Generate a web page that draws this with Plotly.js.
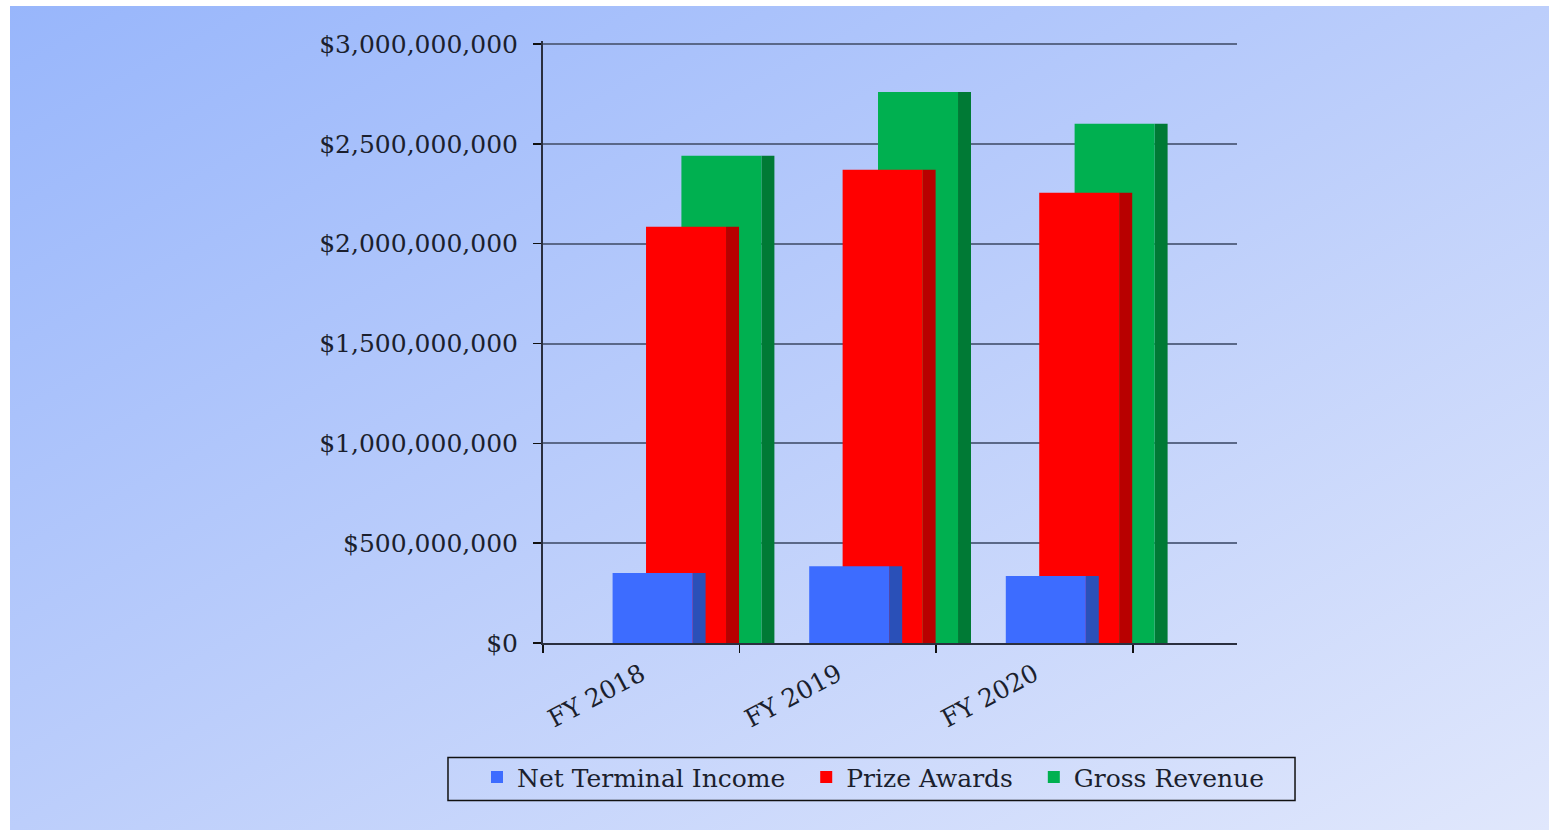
<!DOCTYPE html>
<html>
<head>
<meta charset="utf-8">
<script src="https://cdn.plot.ly/plotly-3.0.1.min.js"></script>
<style>
  html, body { margin: 0; padding: 0; background: #ffffff; width: 1549px; height: 830px; overflow: hidden; }
  #bg { position: absolute; left: 10px; top: 6px; width: 1539px; height: 824px;
        background: linear-gradient(to bottom right, #98b6fb 0%, #bccefb 50%, #e0e7fc 100%); }
  #chart { position: absolute; left: 0; top: 0; width: 1549px; height: 830px; }
</style>
</head>
<body>
<div id="bg"></div>
<div id="chart"></div>
<script>
const categories = ["FY 2018", "FY 2019", "FY 2020"];
const netTerminalIncome = [350000000, 385000000, 335000000];
const prizeAwards = [2085000000, 2370000000, 2255000000];
const grossRevenue = [2440000000, 2760000000, 2600000000];
const seriesNames = ["Net Terminal Income", "Prize Awards", "Gross Revenue"];
const yTickVals = [0, 500000000, 1000000000, 1500000000, 2000000000, 2500000000, 3000000000];
const yTickText = ["$0", "$500,000,000", "$1,000,000,000", "$1,500,000,000", "$2,000,000,000", "$2,500,000,000", "$3,000,000,000"];

const FONT = "DejaVu Serif, Liberation Serif, serif";
const TXT = "#1b1f2e";
const frontW = 0.407, sideW = 0.066;
const PAD = "\u00a0\u00a0";
const series = [
  {name: seriesNames[2], y: grossRevenue, off: 0.204, front: "#00b050", side: "#007a35", pad: ""},
  {name: seriesNames[1], y: prizeAwards, off: 0.024, front: "#ff0000", side: "#b80000", pad: PAD},
  {name: seriesNames[0], y: netTerminalIncome, off: -0.146, front: "#3d6cff", side: "#2a50b8", pad: PAD}
];
const traces = [];
series.forEach((s, i) => {
  traces.push({type: "bar", x: categories, y: s.y, offset: s.off + frontW, width: sideW,
    marker: {color: s.side, line: {width: 0}}, showlegend: false, hoverinfo: "skip"});
  traces.push({type: "bar", x: categories, y: s.y, offset: s.off, width: frontW, name: s.name + s.pad,
    marker: {color: s.front, line: {width: 0}}, legendrank: 3 - i});
});

// plot area: 0 at y=643, 3B at y=44 (599 px per 3B); top of range slightly above 3B so its gridline shows
const yMax = 3015000000;
const plotH = 599 * yMax / 3000000000;
const layout = {
  width: 1549, height: 830,
  paper_bgcolor: "rgba(0,0,0,0)", plot_bgcolor: "rgba(0,0,0,0)",
  margin: {l: 543, r: 312, t: 830 - 187 - plotH, b: 187, pad: 0},
  barmode: "overlay",
  font: {family: FONT, color: TXT, size: 25},
  xaxis: {
    type: "category", range: [-0.5, 3.03], tickson: "boundaries",
    ticks: "outside", ticklen: 8, tickwidth: 1.5, tickcolor: "#111",
    showline: true, linecolor: "#2a2f3f", linewidth: 2,
    tickangle: -28, ticklabelstandoff: 5,
    tickfont: {family: FONT, size: 25, color: TXT},
    showgrid: false, fixedrange: true
  },
  yaxis: {
    range: [0, yMax], tickvals: yTickVals, ticktext: yTickText,
    ticks: "outside", ticklen: 8, tickwidth: 1.5, tickcolor: "#111",
    showline: true, linecolor: "#2a2f3f", linewidth: 2,
    showgrid: true, gridcolor: "#5a6888", gridwidth: 2,
    zeroline: false, ticklabelstandoff: 10,
    tickfont: {family: FONT, size: 25, color: TXT}, fixedrange: true
  },
  legend: {
    orientation: "h", x: -0.0951, xanchor: "left", y: -0.185, yanchor: "top",
    bgcolor: "rgba(0,0,0,0)", borderwidth: 0,
    font: {family: FONT, size: 25, color: TXT}, traceorder: "normal"
  },
  shapes: [{
    type: "rect", xref: "paper", yref: "paper",
    x0: -0.1369, x1: 1.0836, y0: -0.19, y1: -0.2617,
    line: {color: "#111", width: 1.5}, fillcolor: "rgba(0,0,0,0)", layer: "above"
  }],
  showlegend: true
};
Plotly.newPlot("chart", traces, layout, {displayModeBar: false, staticPlot: true});
</script>
</body>
</html>
